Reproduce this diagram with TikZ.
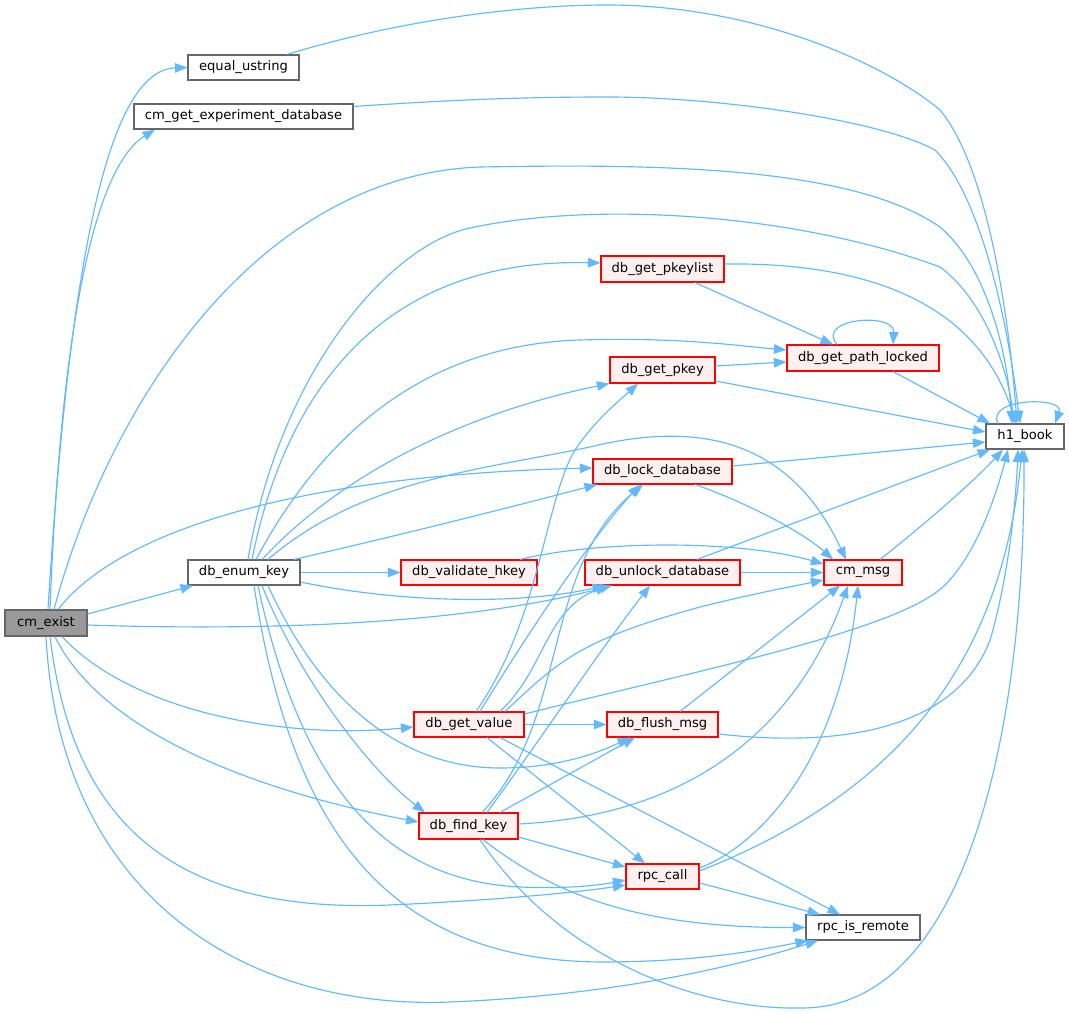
\documentclass[tikz,border=0pt]{standalone}
\usepackage{fontspec}
\setmainfont{DejaVu Sans}
\usetikzlibrary{arrows.meta}
\definecolor{edgeblue}{HTML}{63B8FF}
\definecolor{redfill}{HTML}{FFF0F0}
\definecolor{graybox}{HTML}{666666}
\definecolor{grayfill}{HTML}{999999}
\tikzset{
  fn/.style={rectangle, inner sep=0pt, minimum height=25pt, line width=1.1pt,
    font=\fontsize{13.1}{15}\selectfont, text=black},
  plainbox/.style={fn, draw=graybox, fill=white},
  redbox/.style={fn, draw=red, fill=redfill},
  mainbox/.style={fn, draw=graybox, fill=grayfill},
  edg/.style={draw=edgeblue, line width=1.15pt, -{Triangle[length=12.5pt,width=9.5pt]}},
}
\begin{document}
\begin{tikzpicture}[x=1pt,y=-1pt]
\useasboundingbox (0,0) rectangle (1069,1014);
% nodes
\node[mainbox, minimum width=82pt, minimum height=26pt] (ce) at (46,623) {cm\_exist};
\node[plainbox, minimum width=111pt] (equal) at (243.5,67.5) {equal\_ustring};
\node[plainbox, minimum width=219pt] (cmged) at (243.5,116.5) {cm\_get\_experiment\_database};
\node[plainbox, minimum width=112pt] (enum) at (244,572.5) {db\_enum\_key};
\node[redbox, minimum width=123pt, minimum height=26pt] (pkeylist) at (662.5,269) {db\_get\_pkeylist};
\node[redbox, minimum width=152pt, minimum height=26pt] (pathlocked) at (863,358) {db\_get\_path\_locked};
\node[redbox, minimum width=105pt, minimum height=26pt] (pkey) at (662.5,370) {db\_get\_pkey};
\node[plainbox, minimum width=78pt] (h1) at (1025,436.5) {h1\_book};
\node[redbox, minimum width=139pt] (lock) at (662.5,471.5) {db\_lock\_database};
\node[redbox, minimum width=136pt] (validate) at (469,572.5) {db\_validate\_hkey};
\node[redbox, minimum width=155pt] (unlock) at (662.5,572.5) {db\_unlock\_database};
\node[redbox, minimum width=78pt] (cmmsg) at (863,572.5) {cm\_msg};
\node[redbox, minimum width=110pt] (getvalue) at (469,724.5) {db\_get\_value};
\node[redbox, minimum width=111pt] (flush) at (662.5,724.5) {db\_flush\_msg};
\node[redbox, minimum width=99pt, minimum height=26pt] (findkey) at (468.5,826) {db\_find\_key};
\node[redbox, minimum width=73pt] (rpccall) at (662.5,876.5) {rpc\_call};
\node[plainbox, minimum width=114pt] (remote) at (863,927.5) {rpc\_is\_remote};

% edges from cm_exist
\draw[edg] ([xshift=2pt]ce.north) .. controls (70,250) and (110,70) .. (equal.west);
\draw[edg] ([xshift=4pt]ce.north) .. controls (60,350) and (90,170) .. ([xshift=-88.5pt]cmged.south);
\draw[edg] ([xshift=8pt]ce.north) .. controls (110,400) and (260,175) .. (480,167) .. controls (650,164) and (850,165) .. (940,227) .. controls (990,270) and (1008,360) .. ([xshift=-13pt]h1.north);
\draw[edg] ([yshift=9pt]ce.east) -- ([xshift=-51pt]enum.south);
\draw[edg] ([xshift=12pt]ce.north) .. controls (120,530) and (300,475) .. ([yshift=3.5pt]lock.west);
\draw[edg] ([yshift=-2pt]ce.east) .. controls (300,632) and (480,620) .. ([xshift=-50.5pt]unlock.south);
\draw[edg] ([xshift=16pt]ce.south) .. controls (130,710) and (280,740) .. ([yshift=-2.5pt]getvalue.west);
\draw[edg] ([xshift=9pt]ce.south) .. controls (100,730) and (250,790) .. ([yshift=4pt]findkey.west);
\draw[edg] ([xshift=4pt]ce.south) .. controls (70,800) and (150,915) .. (390,905) .. controls (500,900) and (580,892) .. ([yshift=-8.5pt]rpccall.west);
\draw[edg] (ce.south) .. controls (60,900) and (250,1010) .. (450,1002) .. controls (620,995) and (740,965) .. ([xshift=-45pt]remote.south);

% top nodes to h1_book
\draw[edg] ([xshift=43.5pt]equal.north) .. controls (400,20) and (520,5) .. (607,5) .. controls (750,5) and (880,60) .. (940,110) .. controls (990,170) and (1010,330) .. ([xshift=-8pt]h1.north);
\draw[edg] ([yshift=10pt]cmged.east) .. controls (450,100) and (520,97) .. (607,97) .. controls (720,97) and (880,120) .. (935,150) .. controls (985,200) and (1010,340) .. ([xshift=-5pt]h1.north);

% edges from db_enum_key
\draw[edg] ([xshift=4pt]enum.north) .. controls (280,370) and (390,245) .. (470,228) .. controls (600,200) and (800,215) .. (940,267) .. controls (985,300) and (1008,370) .. ([xshift=-11pt]h1.north);
\draw[edg] ([xshift=8pt]enum.north) .. controls (290,370) and (400,258) .. ([yshift=6pt]pkeylist.west);
\draw[edg] ([xshift=12pt]enum.north) .. controls (320,440) and (420,345) .. (580,340) .. controls (680,337) and (740,346) .. ([yshift=8pt]pathlocked.west);
\draw[edg] ([xshift=18pt]enum.north) .. controls (350,465) and (480,410) .. (pkey.south west);
\draw[edg] ([xshift=24pt]enum.north) .. controls (360,480) and (480,470) .. (590,447) .. controls (700,420) and (790,440) .. ([xshift=-17pt]cmmsg.north);
\draw[edg] ([xshift=50pt]enum.north) .. controls (400,535) and (500,510) .. ([xshift=-65.5pt]lock.south);
\draw[edg] (enum.east) -- (validate.west);
\draw[edg] ([yshift=-9.5pt]enum.east) .. controls (400,603) and (520,605) .. ([xshift=-57.5pt]unlock.south);
\draw[edg] ([xshift=18pt]enum.south) .. controls (300,680) and (370,770) .. ([xshift=-43.5pt]findkey.north);
\draw[edg] ([xshift=24pt]enum.south) .. controls (320,700) and (400,768) .. (500,768) .. controls (560,768) and (600,752) .. ([xshift=-32.5pt]flush.south);
\draw[edg] ([xshift=14pt]enum.south) .. controls (300,780) and (380,880) .. (520,887) .. controls (570,889) and (600,885) .. ([yshift=-3.5pt]rpccall.west);
\draw[edg] ([xshift=10pt]enum.south) .. controls (290,820) and (380,960) .. (600,962) .. controls (700,962) and (760,950) .. ([xshift=-55pt]remote.south);

% db_get_pkeylist
\draw[edg] ([xshift=32.5pt]pkeylist.south) -- ([xshift=-30pt]pathlocked.north);
\draw[edg] ([yshift=5pt]pkeylist.east) .. controls (880,262) and (980,310) .. ([xshift=-9pt]h1.north);
% db_get_path_locked
\draw[edg] ([xshift=-26pt]pathlocked.north) .. controls (815,318) and (895,312) .. ([xshift=30pt]pathlocked.north);
\draw[edg] ([xshift=30pt]pathlocked.south) -- ([xshift=-35pt]h1.north);
% db_get_pkey
\draw[edg] ([yshift=4pt]pkey.east) -- ([yshift=-4pt]pathlocked.west);
\draw[edg] ([yshift=-11pt]pkey.east) -- ([yshift=4.5pt]h1.west);
% db_lock_database
\draw[edg] ([yshift=5.5pt]lock.east) -- ([yshift=-5.5pt]h1.west);
\draw[edg] ([xshift=32.5pt]lock.south) .. controls (740,500) and (800,530) .. ([xshift=-30pt]cmmsg.north);
% db_validate_hkey
\draw[edg] ([xshift=51pt]validate.north) .. controls (600,540) and (740,540) .. ([yshift=8.5pt]cmmsg.west);
% db_unlock_database
\draw[edg] (unlock.east) -- (cmmsg.west);
\draw[edg] ([xshift=34.5pt]unlock.north) -- ([xshift=-35pt]h1.south);
% cm_msg
\draw[edg] ([xshift=17pt]cmmsg.north) .. controls (930,520) and (975,480) .. ([xshift=-22pt]h1.south);
% db_get_value
\draw[edg] ([xshift=7pt]getvalue.north) .. controls (540,620) and (545,500) .. (575,450) .. controls (595,420) and (620,400) .. ([xshift=-24.5pt]pkey.south);
\draw[edg] ([xshift=11pt]getvalue.north) .. controls (530,630) and (590,540) .. ([xshift=-22.5pt]lock.south);
\draw[edg] ([xshift=31pt]getvalue.north) .. controls (545,670) and (545,610) .. ([xshift=-54.5pt]unlock.south);
\draw[edg] ([xshift=36pt]getvalue.north) .. controls (560,660) and (580,640) .. (700,607) .. controls (760,592) and (800,585) .. ([yshift=-7.5pt]cmmsg.west);
\draw[edg] ([yshift=10.5pt]getvalue.east) .. controls (700,670) and (900,630) .. (945,585) .. controls (975,555) and (995,500) .. ([xshift=-17pt]h1.south);
\draw[edg] (getvalue.east) -- (flush.west);
\draw[edg] ([xshift=18pt]getvalue.south) -- ([xshift=-17.5pt]rpccall.north);
\draw[edg] ([xshift=31pt]getvalue.south) -- ([xshift=-23pt]remote.north);
% db_flush_msg
\draw[edg] ([xshift=17.5pt]flush.north) -- ([xshift=-23pt]cmmsg.south);
\draw[edg] ([yshift=-9.5pt]flush.east) .. controls (860,750) and (960,720) .. (990,640) .. controls (1005,590) and (1015,520) .. ([xshift=-7pt]h1.south);
% db_find_key
\draw[edg] ([xshift=13.5pt]findkey.north) .. controls (570,720) and (540,570) .. ([xshift=-19.5pt]lock.south);
\draw[edg] ([xshift=18.5pt]findkey.north) .. controls (540,740) and (600,650) .. ([xshift=-12.5pt]unlock.south);
\draw[edg] ([xshift=31.5pt]findkey.north) -- ([xshift=-27.5pt]flush.south);
\draw[edg] ([yshift=2pt]findkey.east) .. controls (700,815) and (800,720) .. ([xshift=-15pt]cmmsg.south);
\draw[edg] ([yshift=-11pt]findkey.east) -- ([yshift=9.5pt]rpccall.west);
\draw[edg] ([xshift=14.5pt]findkey.south) .. controls (560,900) and (650,928) .. (remote.west);
\draw[edg] ([xshift=11.5pt]findkey.south) .. controls (560,960) and (700,1010) .. (800,1008) .. controls (960,1010) and (1025,750) .. ([xshift=-1pt]h1.south);
% rpc_call
\draw[edg] ([yshift=8.5pt]rpccall.east) .. controls (760,845) and (840,760) .. ([xshift=-5pt]cmmsg.south);
\draw[edg] ([yshift=5.5pt]rpccall.east) .. controls (880,800) and (1000,680) .. ([xshift=-3pt]h1.south);
\draw[edg] ([yshift=-6.5pt]rpccall.east) -- ([xshift=-43pt]remote.north);
% h1_book self loop
\draw[edg] ([xshift=-27pt]h1.north) .. controls (985,398) and (1065,396) .. ([xshift=30pt]h1.north);
\end{tikzpicture}
\end{document}
